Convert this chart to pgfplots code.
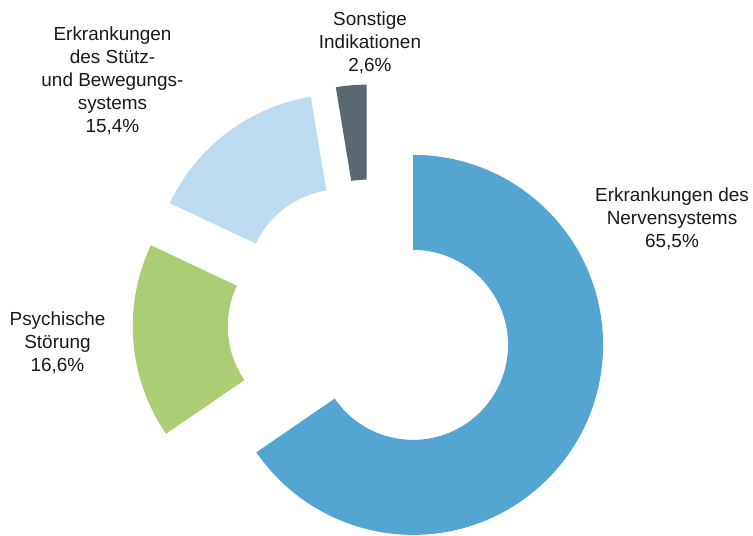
\documentclass[border=0pt]{standalone}
\usepackage{pgfplots}
\pgfplotsset{compat=1.18}
\usepackage{fontspec}
\setmainfont{Liberation Sans}
\definecolor{cA}{HTML}{55A5D3}
\definecolor{cB}{HTML}{ABCD73}
\definecolor{cC}{HTML}{BEDCF1}
\definecolor{cD}{HTML}{5B6870}
% data (percent)
\def\vA{65.5}\def\vB{16.6}\def\vC{15.4}\def\vD{2.6}
\pgfmathsetmacro{\tot}{\vA+\vB+\vC+\vD}
\pgfmathsetmacro{\aO}{90}
\pgfmathsetmacro{\aA}{\aO-(\vA/\tot)*360}
\pgfmathsetmacro{\aB}{\aA-(\vB/\tot)*360}
\pgfmathsetmacro{\aC}{\aB-(\vC/\tot)*360}
\pgfmathsetmacro{\aD}{\aC-(\vD/\tot)*360}
\def\cx{370.6}\def\cy{213.5}\def\dd{48}\def\R{190}\def\r{95}
\newcommand{\slice}[3]{%
  \fill[#3] ({\cx+\dd*cos((#1+#2)/2)+\R*cos(#1)},{\cy+\dd*sin((#1+#2)/2)+\R*sin(#1)})
    arc[start angle=#1,end angle=#2,radius=\R bp]
    -- ({\cx+\dd*cos((#1+#2)/2)+\r*cos(#2)},{\cy+\dd*sin((#1+#2)/2)+\r*sin(#2)})
    arc[start angle=#2,end angle=#1,radius=\r bp] -- cycle;}
\tikzset{lbl/.style={font=\fontsize{19}{23}\selectfont, align=center, inner sep=0pt, text=black!90}}
\begin{document}
\begin{tikzpicture}
\begin{axis}[
  scale only axis, width=753bp, height=536bp,
  xmin=0, xmax=753, ymin=0, ymax=536,
  hide axis, clip=false
]
\path (0,0) rectangle (753,536);
\slice{\aO}{\aA}{cA}
\slice{\aA}{\aB}{cB}
\slice{\aB}{\aC}{cC}
\slice{\aC}{\aD}{cD}
\node[lbl] at (672,317) {Erkrankungen des\\Nervensystems\\65,5\%};
\node[lbl] at (57.5,193) {Psychische\\Störung\\16,6\%};
\node[lbl] at (112.5,455) {Erkrankungen\\des Stütz-\\und Bewegungs-\\systems\\15,4\%};
\node[lbl] at (370,493) {Sonstige\\Indikationen\\2,6\%};
\end{axis}
\end{tikzpicture}
\end{document}
